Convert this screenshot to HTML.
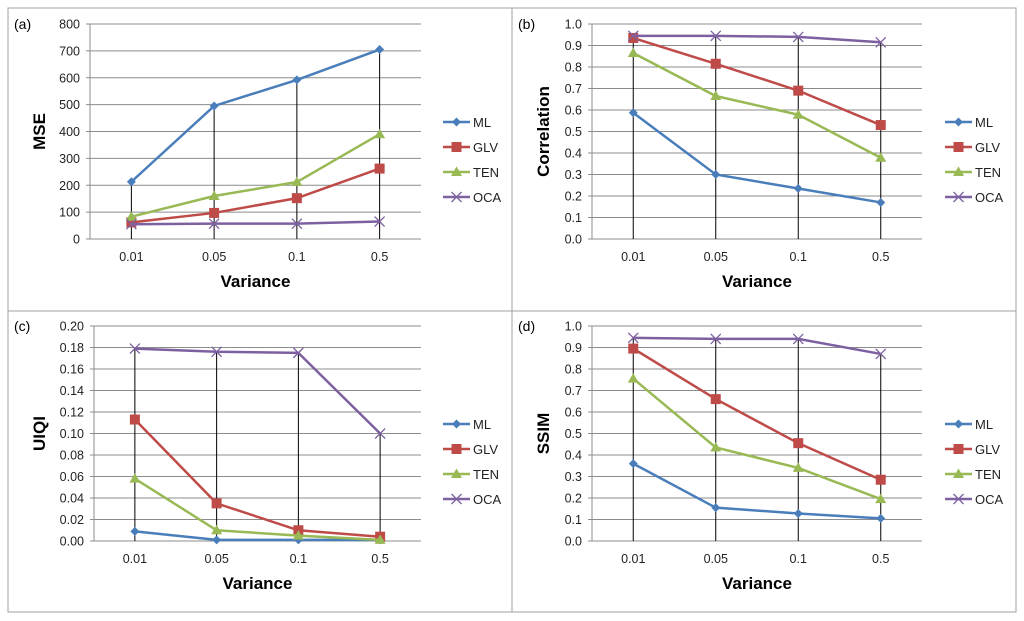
<!DOCTYPE html>
<html><head><meta charset="utf-8"><style>
html,body{margin:0;padding:0;background:#fff;}
svg{display:block;font-family:"Liberation Sans",sans-serif;}
</style></head><body>
<svg id="chart" width="1024" height="621" viewBox="0 0 1024 621"></svg>
<script>
const categories = ["0.01","0.05","0.1","0.5"];
const seriesNames = ["ML","GLV","TEN","OCA"];
const mseML = [213,495,592,705];
const mseGLV = [62,97,152,262];
const mseTEN = [83,160,212,390];
const mseOCA = [55,57,57,65];
const corML = [0.587,0.30,0.235,0.17];
const corGLV = [0.935,0.815,0.69,0.53];
const corTEN = [0.865,0.665,0.578,0.378];
const corOCA = [0.945,0.945,0.94,0.915];
const uiqiML = [0.009,0.001,0.001,0.001];
const uiqiGLV = [0.113,0.035,0.010,0.004];
const uiqiTEN = [0.058,0.010,0.005,0.001];
const uiqiOCA = [0.179,0.176,0.175,0.100];
const ssimML = [0.36,0.155,0.128,0.105];
const ssimGLV = [0.895,0.66,0.455,0.285];
const ssimTEN = [0.755,0.435,0.34,0.195];
const ssimOCA = [0.945,0.94,0.94,0.87];
const mseTicks = ["0","100","200","300","400","500","600","700","800"];
const corTicks = ["0.0","0.1","0.2","0.3","0.4","0.5","0.6","0.7","0.8","0.9","1.0"];
const uiqiTicks = ["0.00","0.02","0.04","0.06","0.08","0.10","0.12","0.14","0.16","0.18","0.20"];
const ssimTicks = corTicks;

const colors = ["#4a7ebb","#be4b48","#98b954","#7d60a0"];
const NS="http://www.w3.org/2000/svg";
const svg=document.getElementById('chart');
function el(tag,attrs,parent){const e=document.createElementNS(NS,tag);for(const k in attrs)e.setAttribute(k,attrs[k]);(parent||svg).appendChild(e);return e;}

function panel(o){
  const g=el('g',{});
  
  
  const b=el('rect',{x:o.bx,y:o.by,width:o.bw,height:o.bh,fill:'none',stroke:'#a0a0a0','stroke-width':1},g);
  
  
  const lab=el('text',{x:o.bx+6,y:o.top+5,'font-size':14,fill:'#000'},g);lab.textContent='('+o.id+')';
  
  
  const n=o.ticks.length-1, maxV=parseFloat(o.ticks[n]);
  const y=v=>o.bottom-(v/maxV)*(o.bottom-o.top);
  const step=(o.right-o.left)/categories.length;
  const x=i=>o.left+step*(i+0.5);
  o.ticks.forEach((t,i)=>{
    const v=parseFloat(t), yy=y(v);
    const gl=el('line',{x1:o.left-4,x2:o.right,y1:yy,y2:yy,stroke:'#8c8c8c','stroke-width':1},g);
    
    
    const tx=el('text',{x:o.left-10,y:yy+4.5,'font-size':12.5,'text-anchor':'end',fill:'#222'},g);tx.textContent=t;
    
    
  });
  const ax=el('line',{x1:o.left,x2:o.left,y1:o.top,y2:o.bottom,stroke:'#8c8c8c'},g);
  
  
  categories.forEach((c,i)=>{
    const t=el('text',{x:x(i),y:o.bottom+22,'font-size':12.5,'text-anchor':'middle',fill:'#222'},g);t.textContent=c;
    
    
    const mx=Math.max(...o.data.map(d=>d[i]));
    const dl=el('line',{x1:x(i),x2:x(i),y1:o.bottom,y2:y(mx),stroke:'#000','stroke-width':1},g);
    
    
  });
  const xt=el('text',{x:(o.left+o.right)/2,y:o.bottom+48,'font-size':17,'font-weight':'bold','text-anchor':'middle'},g);xt.textContent='Variance';
  
  
  const yt=el('text',{x:0,y:0,'font-size':17,'font-weight':'bold','text-anchor':'middle',transform:`translate(${o.bx+37},${(o.top+o.bottom)/2}) rotate(-90)`},g);yt.textContent=o.ylabel;
  
  
  o.data.forEach((d,s)=>{
    const pts=d.map((v,i)=>x(i)+','+y(v)).join(' ');
    const pl=el('polyline',{points:pts,fill:'none',stroke:colors[s],'stroke-width':2.5},g);
    
    
    d.forEach((v,i)=>marker(g,s,x(i),y(v)));
  });
  seriesNames.forEach((nm,s)=>{
    const ly=o.legY+s*25, lx=o.legX;
    const ll=el('line',{x1:lx,x2:lx+27,y1:ly,y2:ly,stroke:colors[s],'stroke-width':2.5},g);
    
    
    marker(g,s,lx+13.5,ly,true);
    const t=el('text',{x:lx+30,y:ly+5,'font-size':13,fill:'#222'},g);t.textContent=nm;
    
    
  });
}
function marker(g,s,cx,cy,leg){
  let m;
  if(s===0) m=el('polygon',{points:`${cx},${cy-4.5} ${cx+4.5},${cy} ${cx},${cy+4.5} ${cx-4.5},${cy}`,fill:colors[0]},g);
  else if(s===1) m=el('rect',{x:cx-5,y:cy-5,width:10,height:10,fill:colors[1]},g);
  else if(s===2) m=el('polygon',{points:`${cx},${cy-5.5} ${cx+5.5},${cy+4} ${cx-5.5},${cy+4}`,fill:colors[2]},g);
  else m=el('path',{d:`M${cx-5},${cy-5}L${cx+5},${cy+5}M${cx-5},${cy+5}L${cx+5},${cy-5}`,stroke:colors[3],'stroke-width':1.3,fill:'none'},g);
  
  
}
panel({id:'a',bx:8,by:8,bw:504,bh:303,left:90,right:421,top:24,bottom:239,ticks:mseTicks,ylabel:'MSE',data:[mseML,mseGLV,mseTEN,mseOCA],legX:443,legY:122});
panel({id:'b',bx:512,by:8,bw:504,bh:303,left:592,right:922,top:24,bottom:239,ticks:corTicks,ylabel:'Correlation',data:[corML,corGLV,corTEN,corOCA],legX:945,legY:122});
panel({id:'c',bx:8,by:311,bw:504,bh:301,left:94,right:421,top:326,bottom:541,ticks:uiqiTicks,ylabel:'UIQI',data:[uiqiML,uiqiGLV,uiqiTEN,uiqiOCA],legX:443,legY:424});
panel({id:'d',bx:512,by:311,bw:504,bh:301,left:592,right:922,top:326,bottom:541,ticks:ssimTicks,ylabel:'SSIM',data:[ssimML,ssimGLV,ssimTEN,ssimOCA],legX:945,legY:424});
</script>
</body></html>
